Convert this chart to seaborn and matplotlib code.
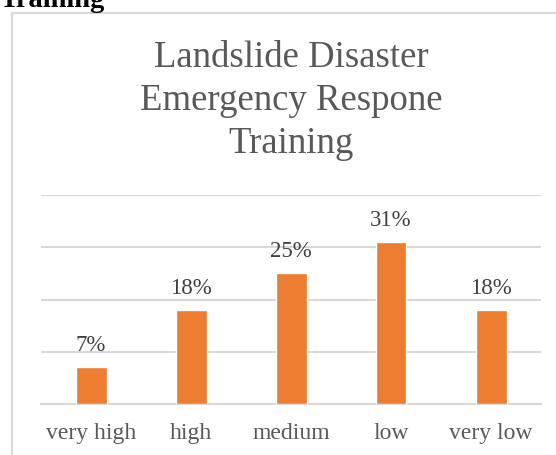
import matplotlib
matplotlib.use("Agg")
import matplotlib.pyplot as plt
from matplotlib.patches import Rectangle
import seaborn as sns
import pandas as pd

# Survey results: level of landslide emergency-response training
levels = ["very high", "high", "medium", "low", "very low"]
shares = [7, 18, 25, 31, 18]
bar_labels = ["7%", "18%", "25%", "31%", "18%"]
y_ticks = [0, 10, 20, 30, 40]

df = pd.DataFrame({"level": levels, "share": shares})

sns.set_theme(style="white")
plt.rcParams["font.family"] = ["Liberation Serif", "DejaVu Serif"]

W, H = 556, 455
fig = plt.figure(figsize=(W / 100, H / 100), dpi=100)

# Chart frame
fig.patches.append(Rectangle((11.5 / W, -0.1), 1.0, (H - 13) / H + 0.1,
                             transform=fig.transFigure, fill=False,
                             edgecolor="#D9D9D9", linewidth=1.5))

# Heading of the surrounding section, partly cut off at the top
fig.text(0, (H - 7) / H, "Training", fontsize=20.5, fontweight="bold",
         color="black", ha="left", va="baseline")

ax = fig.add_axes([41 / W, 51 / H, 500 / W, 209 / H])
sns.barplot(data=df, x="level", y="share", color="#ED7D31", saturation=1,
            width=0.31, ax=ax, zorder=3)

ax.set_xlim(-0.5, len(levels) - 0.5)
ax.set_ylim(0, 40)
ax.set_yticks(y_ticks)
ax.yaxis.grid(True, color="#D9D9D9", linewidth=1.5, zorder=0)
ax.set_yticklabels([])
ax.tick_params(axis="y", length=0)
ax.tick_params(axis="x", length=0, pad=14, labelsize=17, labelcolor="#595959")
ax.set_xlabel("")
ax.set_ylabel("")
for side in ["top", "right", "left"]:
    ax.spines[side].set_visible(False)
ax.spines["bottom"].set_color("#D9D9D9")
ax.spines["bottom"].set_linewidth(1.5)

for i, (v, lab) in enumerate(zip(shares, bar_labels)):
    ax.annotate(lab, (i, v), xytext=(0, 8), textcoords="offset points",
                ha="center", va="bottom", fontsize=16.5, color="#404040")

fig.text(291 / W, (H - 101) / H,
         "Landslide Disaster\nEmergency Respone\nTraining",
         ha="center", va="center", fontsize=26.5, color="#595959",
         linespacing=1.32)

fig.savefig("out.png", dpi=100)
